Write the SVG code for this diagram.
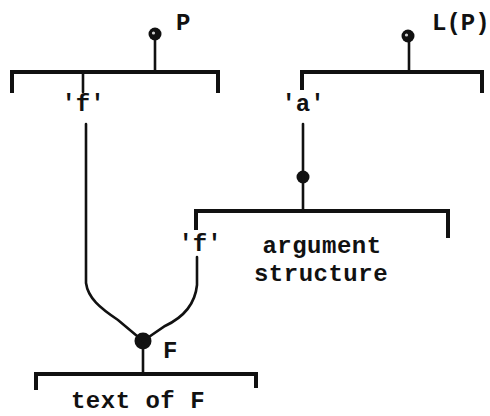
<svg xmlns="http://www.w3.org/2000/svg" width="490" height="416" viewBox="0 0 490 416">
<style>
.br{fill:none;stroke:#111;stroke-width:4;stroke-linejoin:miter;stroke-linecap:butt}
.ln{fill:none;stroke:#111;stroke-width:2.6;stroke-linecap:round}
.dot{fill:#111}
.hl{fill:#fff;opacity:0.8}
text{font-family:"Liberation Mono","DejaVu Sans Mono",monospace;font-weight:bold;fill:#111;font-size:24px}
</style>
<rect width="490" height="416" fill="#fff"/>
<g id="P">
<circle class="dot" cx="155" cy="34" r="6.5"/>
<circle class="hl" cx="153.5" cy="33" r="1.6"/>
<text x="176" y="30">P</text>
<line class="ln" x1="155" y1="38" x2="155" y2="72"/>
<path class="br" d="M12 93 V72 H218 V93"/>
<line class="ln" x1="83" y1="72" x2="83" y2="92"/>
<text x="83" y="111" text-anchor="middle">'f'</text>
</g>
<g id="LP">
<circle class="dot" cx="408" cy="36" r="6.5"/>
<circle class="hl" cx="406.5" cy="35" r="1.6"/>
<text x="432" y="30" font-size="21">L(P)</text>
<line class="ln" x1="409" y1="40" x2="409" y2="72"/>
<path class="br" d="M302 90 V72 H482 V93"/>
<text x="303" y="111" text-anchor="middle">'a'</text>
</g>
<g id="arg">
<circle class="dot" cx="303" cy="177" r="6.5"/>
<path class="br" d="M196 230 V211 H448 V238"/>
<text x="200" y="251" text-anchor="middle">'f'</text>
<text x="322" y="253" text-anchor="middle" letter-spacing="0.5">argument</text>
<text x="321" y="281" text-anchor="middle" letter-spacing="0.5">structure</text>
</g>
<g id="F">
<circle class="dot" cx="143" cy="341" r="8.5"/>
<text x="163" y="358">F</text>
<line class="ln" x1="143" y1="345" x2="143" y2="374"/>
<path class="br" d="M36 390 V374 H256 V388"/>
<text x="138" y="408" text-anchor="middle" letter-spacing="0.5">text of F</text>
</g>
<g id="connectors">
<line class="ln" x1="303" y1="124" x2="303" y2="211"/>
<path class="ln" d="M86 124 V283 C88 298 100 308 118 320 L143 341"/>
<path class="ln" d="M197 257 V285 C195 305 182 318 165 326 L143 341"/>
</g>
</svg>
